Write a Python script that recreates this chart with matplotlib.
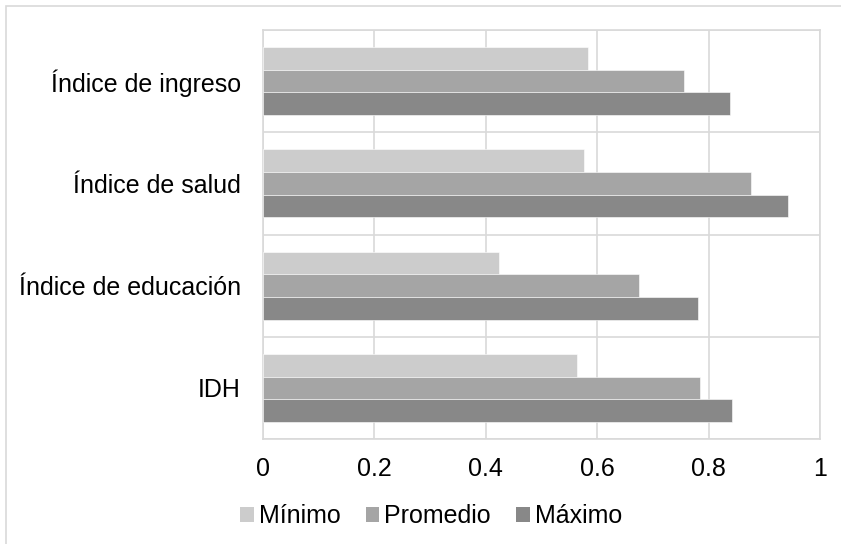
import matplotlib.pyplot as plt
import numpy as np
from matplotlib.patches import Patch, Rectangle

# Data
categories = ["Índice de ingreso", "Índice de salud", "Índice de educación", "IDH"]
minimo = [0.583, 0.576, 0.424, 0.564]
promedio = [0.755, 0.877, 0.675, 0.785]
maximo = [0.839, 0.943, 0.781, 0.842]

series_names = ["Mínimo", "Promedio", "Máximo"]
colors = ["#cccccc", "#a5a5a5", "#888888"]

plt.rcParams['font.family'] = ['Liberation Sans', 'DejaVu Sans']

fig = plt.figure(figsize=(8.41, 5.44), dpi=100)
ax = fig.add_axes([263 / 841, 1 - 439 / 544, 557 / 841, 409 / 544])

y = np.arange(len(categories))
h = 0.222
for i, (vals, col) in enumerate(zip([minimo, promedio, maximo], colors)):
    ax.barh(y + (i - 1) * h, vals, height=h, color=col, edgecolor="white",
            linewidth=0.4, zorder=3, label=series_names[i])

ax.set_xlim(0, 1)
ax.set_ylim(len(categories) - 0.5, -0.5)
ax.set_xticks(np.arange(0, 1.01, 0.2))
ax.set_xticklabels(["0", "0.2", "0.4", "0.6", "0.8", "1"])
ax.set_yticks(y)
ax.set_yticklabels(categories)
ax.tick_params(axis="both", length=0, labelsize=18, colors="black")
ax.tick_params(axis="y", pad=16)
ax.tick_params(axis="x", pad=13)

grid_color = "#d9d9d9"
ax.set_yticks(np.arange(-0.5, len(categories), 1), minor=True)
ax.tick_params(axis="y", which="minor", length=0)
ax.grid(axis="x", color=grid_color, linewidth=1.2, zorder=0)
ax.grid(axis="y", which="minor", color=grid_color, linewidth=1.2, zorder=0)
ax.grid(axis="y", which="major", visible=False)
for s in ax.spines.values():
    s.set_color(grid_color)
    s.set_linewidth(1.2)

handles = [Patch(facecolor=c, edgecolor="none") for c in colors]
fig.legend(handles, series_names, loc="center", bbox_to_anchor=(431 / 841, 1 - 516 / 544),
           ncol=3, frameon=False, fontsize=18, handlelength=0.55, handleheight=0.55,
           handletextpad=0.2, columnspacing=1.0, borderpad=0)

# outer chart border
fig.patches.append(Rectangle((6 / 841, -0.1), 1.0, 1.1 - 6 / 544, transform=fig.transFigure,
                             fill=False, edgecolor=grid_color, linewidth=1.2))

plt.savefig("out.png", dpi=100)
